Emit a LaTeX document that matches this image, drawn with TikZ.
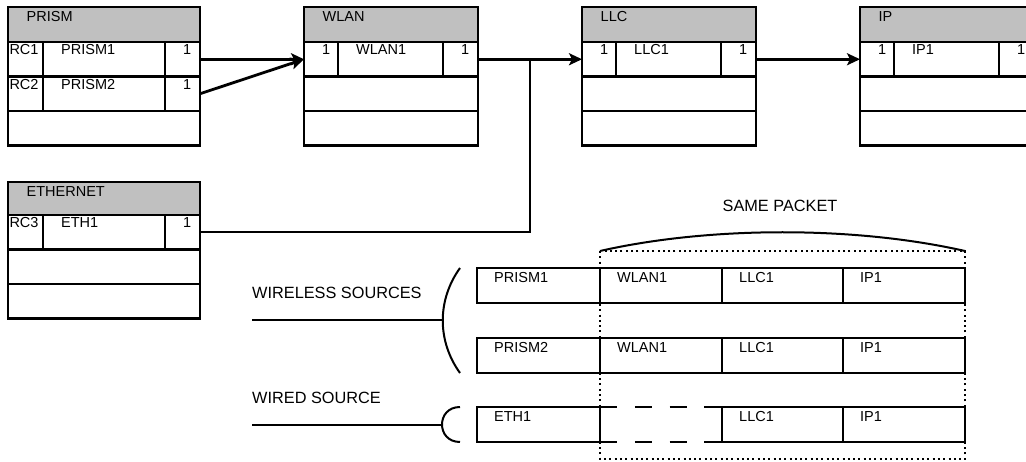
\documentclass[tikz,border=0pt]{standalone}
\usepackage{fontspec}
\setmainfont{Liberation Sans}
\usetikzlibrary{arrows.meta}
\definecolor{hdrgray}{RGB}{192,192,192}

\begin{document}
\begin{tikzpicture}[x=1pt, y=-1pt,
  cellbox/.style = {draw, line width=2.8pt, inner sep=0pt, outer sep=0pt,
                    anchor=north west, minimum height=34.5pt},
  celltxt/.style = {font=\fontsize{14.5}{17}\selectfont, inner sep=0pt,
                    anchor=base west},
  cell/.style    = {cellbox, label={[celltxt, xshift=18pt, yshift=-13pt]north west:#1}},
  rccell/.style  = {cellbox, minimum width=35pt,
                    label={[celltxt, xshift=1.3pt, yshift=-13pt]north west:#1}},
  hdrcell/.style = {cellbox, fill=hdrgray, minimum height=35pt,
                    label={[celltxt, xshift=18.5pt, yshift=-14.7pt]north west:#1}},
  pkt/.style     = {cellbox, line width=2.6pt, minimum height=35pt,
                    label={[celltxt, xshift=17pt, yshift=-14.5pt]north west:#1}},
  srctxt/.style  = {font=\fontsize{16.3}{19}\selectfont, inner sep=0pt, anchor=base west},
  arr/.style     = {-{Stealth[length=13pt, width=12pt, inset=3pt]}, line width=2.8pt},
  link/.style    = {line width=1.6pt},
  bracket/.style = {line width=2pt},
  gapline/.style = {line width=2.6pt, dash pattern=on 17.4pt off 17.4pt},
  dotline/.style = {line width=2pt, dash pattern=on 2pt off 3.3pt},
]
\clip (0,0) rectangle (1026,462);

%% -- PRISM source ------------------------------------------------------------
\node[hdrcell=PRISM, minimum width=192pt] (prism) at (8,7) {};
\node[rccell=RC1] (rc1) at (prism.south west) {};
\node[cell=PRISM1, minimum width=122pt] (prism1) at (rc1.north east) {};
\node[cell=1, minimum width=35pt] (prism1-out) at (prism1.north east) {};
\node[rccell=RC2] (rc2) at (rc1.south west) {};
\node[cell=PRISM2, minimum width=122pt] (prism2) at (rc2.north east) {};
\node[cell=1, minimum width=35pt] (prism2-out) at (prism2.north east) {};
\node[cellbox, minimum width=192pt] (prism-r3) at (rc2.south west) {};

%% -- ETHERNET source ---------------------------------------------------------
\node[hdrcell=ETHERNET, minimum width=192pt, minimum height=33pt] (eth) at (8,182) {};
\node[rccell=RC3] (rc3) at (eth.south west) {};
\node[cell=ETH1, minimum width=122pt] (eth1) at (rc3.north east) {};
\node[cell=1, minimum width=35pt] (eth1-out) at (eth1.north east) {};
\node[cellbox, minimum width=192pt] (eth-r2) at (rc3.south west) {};
\node[cellbox, minimum width=192pt] (eth-r3) at (eth-r2.south west) {};

%% -- protocol stack: WLAN, LLC, IP -------------------------------------------
\foreach \nm/\lbl/\xx in {wlan/WLAN/304, llc/LLC/582, ip/IP/860} {
  \node[hdrcell=\lbl, minimum width=174pt] (\nm) at (\xx,7) {};
  \node[cell=1, minimum width=34pt] (\nm-in) at (\nm.south west) {};
  \node[cell=\lbl1, minimum width=105pt] (\nm1) at (\nm-in.north east) {};
  \node[cell=1, minimum width=35pt] (\nm-out) at (\nm1.north east) {};
  \node[cellbox, minimum width=174pt] (\nm-r2) at (\nm-in.south west) {};
  \node[cellbox, minimum width=174pt] (\nm-r3) at (\nm-r2.south west) {};
}

\coordinate (jn) at ([xshift=52pt]wlan-out.east);
\draw[arr] (prism1-out.east) -- (wlan-in.west);
\draw[arr] (prism2-out.east) -- (wlan-in.west);
\draw[arr] (wlan-out.east) -- (llc-in.west);
\draw[arr] (llc-out.east) -- (ip-in.west);
\draw[link] (eth1-out.east) -| (jn);

%% -- packets -----------------------------------------------------------------
\foreach \r/\src/\yy in {1/PRISM1/268, 2/PRISM2/338} {
  \node[pkt=\src, minimum width=123pt] (pk\r-a) at (477,\yy) {};
  \node[pkt=WLAN1, minimum width=122pt] (pk\r-b) at (pk\r-a.north east) {};
  \node[pkt=LLC1, minimum width=121pt] (pk\r-c) at (pk\r-b.north east) {};
  \node[pkt=IP1, minimum width=122pt] (pk\r-d) at (pk\r-c.north east) {};
}
\node[pkt=ETH1, minimum width=123pt] (pk3-a) at (477,407) {};
\node[pkt=LLC1, minimum width=121pt] (pk3-c) at ([xshift=122pt]pk3-a.north east) {};
\node[pkt=IP1, minimum width=122pt] (pk3-d) at (pk3-c.north east) {};
\draw[gapline] (pk3-a.north east) -- (pk3-c.north west);
\draw[gapline] (pk3-a.south east) -- (pk3-c.south west);

%% same packet frame
\coordinate (pk-tl) at ([yshift=17pt]pk1-b.north west);
\coordinate (pk-br) at ([yshift=-17pt]pk3-d.south east);
\coordinate (pk-tr) at (pk-br |- pk-tl);
\draw[dotline] (pk-tl) rectangle (pk-br);
\draw[bracket] (pk-tl) .. controls +(110,-25) and +(-110,-25) .. (pk-tr);
\node[srctxt, anchor=base] (samepkt) at (780,211.5) {SAME PACKET};

%% -- sources -----------------------------------------------------------------
\node[srctxt] (wless) at (252,299) {WIRELESS SOURCES};
\coordinate (wl-top) at ([xshift=-17pt]pk1-a.north west);
\coordinate (wl-bot) at ([xshift=-17pt]pk2-a.south west);
\coordinate (wl-mid) at (443,320.5);
\coordinate (wl-end) at (252,320.5);
\draw[bracket] (wl-top) .. controls +(-23,32) and +(-23,-32) .. (wl-bot);
\draw[bracket] (wl-end) -- (wl-mid);

\node[srctxt] (wired) at (252,403) {WIRED SOURCE};
\coordinate (wd-top) at ([xshift=-17pt]pk3-a.north west);
\coordinate (wd-bot) at ([xshift=-17pt]pk3-a.south west);
\coordinate (wd-mid) at (442,424.5);
\coordinate (wd-end) at (252,424.5);
\draw[bracket] (wd-top) .. controls +(-24,0) and +(-24,0) .. (wd-bot);
\draw[bracket] (wd-end) -- (wd-mid);

\end{tikzpicture}
\end{document}
